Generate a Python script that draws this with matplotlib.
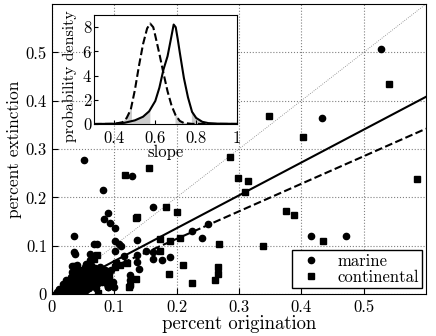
import matplotlib
matplotlib.use('Agg')
import matplotlib.pyplot as plt
from matplotlib.ticker import FuncFormatter

plt.rcParams['font.family'] = ['cmr10']
plt.rcParams['axes.formatter.use_mathtext'] = True
plt.rcParams['font.size'] = 12

# marine genera (circles)
mar_x = [0.528, 0.433, 0.415, 0.471, 0.052,
         0.128, 0.082, 0.162, 0.090, 0.083, 0.093, 0.101, 0.036, 0.102, 0.107, 0.111, 0.137,
         0.068, 0.072, 0.036, 0.037, 0.061, 0.101, 0.116, 0.225, 0.251, 0.240,
         0.151, 0.162, 0.162, 0.176, 0.190, 0.137, 0.137, 0.139, 0.126, 0.126, 0.125, 0.125,
         0.090, 0.008,
         0.061, 0.033, 0.056, 0.077, 0.055, 0.063, 0.069, 0.085, 0.088, 0.079, 0.084, 0.092,
         0.098, 0.090, 0.100, 0.095, 0.036, 0.053,
         0.015, 0.020, 0.022, 0.025, 0.027, 0.028, 0.030, 0.030, 0.032, 0.035, 0.035, 0.036,
         0.038, 0.040, 0.040, 0.042, 0.043, 0.045, 0.045, 0.047, 0.048, 0.050, 0.050, 0.052,
         0.055, 0.058, 0.060, 0.063, 0.065, 0.068, 0.070, 0.072, 0.075, 0.078, 0.080, 0.082,
         0.085, 0.088, 0.092, 0.097, 0.040, 0.037, 0.033, 0.042, 0.048, 0.055, 0.060, 0.025,
         0.018, 0.045, 0.050, 0.038,
         0.012, 0.017, 0.023, 0.028, 0.033, 0.037, 0.041, 0.046, 0.051, 0.056, 0.061, 0.066,
         0.071, 0.076, 0.081, 0.086, 0.031, 0.044, 0.053, 0.064, 0.074, 0.058, 0.067, 0.047]
mar_y = [0.507, 0.365, 0.120, 0.121, 0.277,
         0.244, 0.216, 0.181, 0.167, 0.155, 0.147, 0.136, 0.119, 0.109, 0.104, 0.100, 0.112,
         0.104, 0.104, 0.087, 0.082, 0.083, 0.088, 0.078, 0.130, 0.144, 0.116,
         0.089, 0.087, 0.073, 0.070, 0.077, 0.081, 0.066, 0.051, 0.039, 0.020, 0.029, 0.016,
         0.014, 0.004,
         0.070, 0.058, 0.055, 0.056, 0.063, 0.060, 0.053, 0.049, 0.042, 0.039, 0.032, 0.042,
         0.025, 0.015, 0.015, 0.049, 0.058, 0.056,
         0.006, 0.012, 0.030, 0.020, 0.025, 0.028, 0.015, 0.035, 0.022, 0.010, 0.040, 0.030,
         0.018, 0.025, 0.005, 0.035, 0.012, 0.020, 0.050, 0.040, 0.028, 0.015, 0.045, 0.032,
         0.022, 0.045, 0.030, 0.038, 0.025, 0.020, 0.045, 0.030, 0.035, 0.042, 0.025, 0.030,
         0.040, 0.020, 0.035, 0.018, 0.060, 0.052, 0.045, 0.008, 0.003, 0.008, 0.012, 0.008,
         0.020, 0.030, 0.038, 0.012,
         0.010, 0.004, 0.016, 0.006, 0.009, 0.024, 0.018, 0.008, 0.024, 0.030, 0.020, 0.032,
         0.012, 0.026, 0.035, 0.028, 0.027, 0.043, 0.010, 0.048, 0.022, 0.036, 0.040, 0.022]

# continental genera (squares)
con_x = [0.541, 0.349, 0.402, 0.286, 0.298, 0.314, 0.310, 0.585, 0.375, 0.389, 0.435,
         0.338, 0.268, 0.266, 0.266, 0.262, 0.155, 0.117, 0.183, 0.200, 0.135, 0.137,
         0.174, 0.189, 0.206, 0.173, 0.211, 0.188, 0.135, 0.225, 0.073, 0.103, 0.109,
         0.120, 0.102, 0.074, 0.124, 0.068]
con_y = [0.434, 0.369, 0.324, 0.283, 0.241, 0.234, 0.212, 0.238, 0.172, 0.164, 0.110,
         0.100, 0.104, 0.055, 0.041, 0.029, 0.261, 0.247, 0.179, 0.170, 0.157, 0.160,
         0.114, 0.109, 0.116, 0.089, 0.061, 0.041, 0.032, 0.022, 0.081, 0.064, 0.060,
         0.064, 0.056, 0.003, 0.015, 0.073]

slope_mar = 0.68
slope_con = 0.57

# posterior densities of the slope
dens_con_x = [0.30, 0.40, 0.44, 0.46, 0.48, 0.50, 0.52, 0.54, 0.56, 0.575, 0.59, 0.60,
              0.62, 0.64, 0.66, 0.68, 0.70, 0.72, 0.74, 0.78, 1.00]
dens_con_y = [0.0, 0.01, 0.15, 0.5, 1.2, 2.8, 4.8, 6.6, 7.9, 8.3, 8.0, 7.3,
              5.8, 4.2, 2.7, 1.5, 0.7, 0.25, 0.08, 0.01, 0.0]
dens_mar_x = [0.30, 0.40, 0.45, 0.50, 0.54, 0.57, 0.60, 0.62, 0.64, 0.66, 0.675, 0.69,
              0.70, 0.71, 0.72, 0.74, 0.76, 0.78, 0.80, 0.83, 0.86, 0.90, 1.00]
dens_mar_y = [0.0, 0.02, 0.1, 0.3, 0.6, 1.05, 1.9, 3.0, 4.5, 5.6, 6.9, 8.22,
              8.0, 7.0, 5.9, 3.8, 2.2, 1.0, 0.5, 0.18, 0.07, 0.03, 0.01]
tail_con = (0.48, 0.69)
tail_mar = (0.57, 0.78)

fig = plt.figure(figsize=(4.36, 3.36), dpi=100)
ax = fig.add_axes([0.119, 0.125, 0.858, 0.863])

ax.plot([0, 0.6], [0, 0.6], ':', color='gray', lw=0.6)
ax.plot([0, 0.6], [0, 0.6 * slope_mar], '-', color='k', lw=1.5)
ax.plot([0, 0.6], [0, 0.6 * slope_con], '--', color='k', lw=1.5)
ax.plot(mar_x, mar_y, 'o', color='k', ms=4.5, label='marine')
ax.plot(con_x, con_y, 's', color='k', ms=4.5, label='continental')

ax.set_xlim(0, 0.6)
ax.set_ylim(0, 0.6)
ax.set_xticks([0, 0.1, 0.2, 0.3, 0.4, 0.5])
ax.set_yticks([0, 0.1, 0.2, 0.3, 0.4, 0.5])
fmt = FuncFormatter(lambda v, p: '%g' % v)
ax.xaxis.set_major_formatter(fmt)
ax.yaxis.set_major_formatter(fmt)
ax.grid(True, ls=':', color='gray', lw=0.8)
ax.tick_params(direction='in', length=4, width=0.8)
ax.tick_params(axis='x', pad=4)
ax.set_xlabel('percent origination', fontsize=13.5, labelpad=0)
ax.set_ylabel('percent extinction', fontsize=12.5, labelpad=3)
ax.legend(loc='lower right', bbox_to_anchor=(0.99, 0.02), borderaxespad=0,
          fancybox=False, edgecolor='k', framealpha=1, numpoints=1,
          handlelength=1.8, handletextpad=0.7, borderpad=0.2, labelspacing=0.05)

ins = fig.add_axes([0.2156, 0.631, 0.328, 0.324])
ins.plot(dens_mar_x, dens_mar_y, '-', color='k', lw=1.5)
ins.plot(dens_con_x, dens_con_y, '--', color='k', lw=1.5)
for xs, ys, (lo, hi) in [(dens_con_x, dens_con_y, tail_con), (dens_mar_x, dens_mar_y, tail_mar)]:
    ins.fill_between(xs, 0, ys, where=[v <= lo for v in xs], color='#cccccc', interpolate=True)
    ins.fill_between(xs, 0, ys, where=[v >= hi for v in xs], color='#cccccc', interpolate=True)
ins.set_xlim(0.3, 1.0)
ins.set_ylim(0, 9)
ins.set_xticks([0.4, 0.6, 0.8, 1.0])
ins.set_yticks([0, 2, 4, 6, 8])
ins.xaxis.set_major_formatter(fmt)
ins.yaxis.set_major_formatter(fmt)
ins.tick_params(direction='in', length=3, width=0.8, pad=2)
ins.tick_params(axis='x', pad=5)
ins.set_xlabel('slope', labelpad=-1)
ins.set_ylabel('probability density', fontsize=11.5)
ins.yaxis.set_label_coords(-0.12, 0.44)

fig.savefig('out.png', dpi=100)
